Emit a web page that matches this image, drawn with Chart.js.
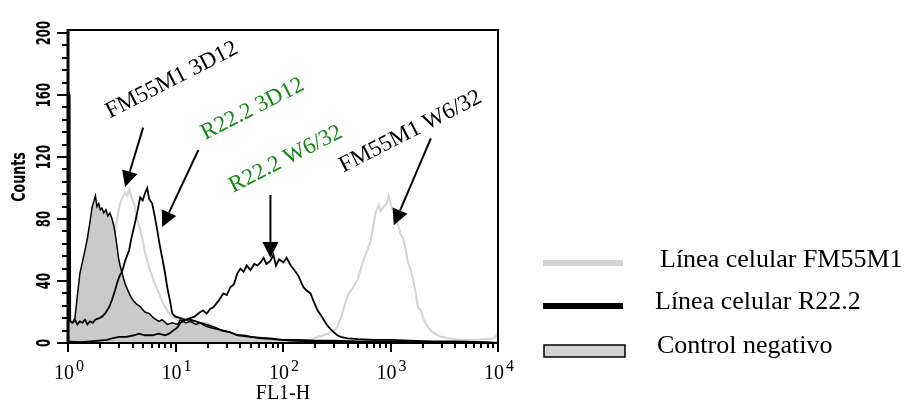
<!DOCTYPE html>
<html>
<head>
<meta charset="utf-8">
<script src="https://cdn.jsdelivr.net/npm/chart.js@4"></script>
<style>
  html, body { margin: 0; padding: 0; background: #fff; }
  canvas { display: block; }
</style>
</head>
<body>
<canvas id="histo" width="914" height="401"></canvas>
<script>
// ------------------------
// DATA (FL1-H channel value, counts)
// ------------------------
const ctrlX = [1, 1.005, 1.04, 1.05, 1.1, 1.16, 1.22, 1.29, 1.36, 1.44, 1.52, 1.6, 1.68, 1.75, 1.8, 1.86, 1.93, 2.0, 2.07, 2.15, 2.25, 2.35, 2.45, 2.57, 2.66, 2.74, 2.86, 2.95, 3.05, 3.19, 3.4, 3.55, 3.71, 3.9, 4.1, 4.35, 4.6, 4.9, 5.2, 5.7, 6.3, 7.0, 7.5, 8.4, 9.3, 10.5, 11.1, 12.5, 13.7, 15.5, 17, 19, 21, 24, 28, 32, 38, 44, 50, 60, 76, 100, 118, 180, 300, 500, 1000, 10000];
const ctrlY = [0, 163, 160, 14, 13, 16, 30, 45, 52, 60, 68, 78, 88, 92, 95, 88, 90, 86, 87, 84, 86, 82, 84, 80, 76, 71, 62, 55, 50, 45, 38, 35, 32, 29, 27, 25, 24, 22, 20, 19, 16, 14, 15, 12, 13, 12, 15, 13, 14, 12, 13, 11, 10, 9, 8, 7, 5, 5, 4, 3, 2.5, 2, 1.5, 1, 1, 0.5, 0, 0];

const r3dX = [1, 1.005, 1.04, 1.05, 1.1, 1.16, 1.22, 1.29, 1.36, 1.44, 1.52, 1.6, 1.7, 1.79, 1.95, 2.07, 2.21, 2.41, 2.57, 2.74, 2.9, 3.05, 3.19, 3.4, 3.71, 3.9, 4.12, 4.4, 4.69, 4.95, 5.22, 5.45, 5.69, 6.07, 6.4, 6.76, 7.1, 7.52, 8.0, 8.38, 8.9, 9.33, 10, 11.1, 12.5, 13.7, 15.5, 17, 19, 21, 23.5, 27, 32, 38, 44, 50, 60, 76, 100, 140, 200, 300, 500, 1000, 2000, 5000, 10000];
const r3dY = [0, 88, 86, 14, 13, 15, 12, 14, 13, 15, 12, 14, 13, 15, 16, 17, 19, 23, 28, 34, 40, 44, 46, 53, 60, 68, 75, 84, 94, 92, 97, 100, 93, 90, 82, 73, 64, 55, 45, 36, 27, 19, 17, 16, 15, 15, 14, 13, 12, 11, 10, 8, 7, 5, 4.5, 4, 3.5, 3, 2, 2, 1.5, 1.5, 1, 1, 0.5, 0.5, 0];

const rw6X = [1, 1.3, 1.6, 1.95, 2.3, 2.57, 3.0, 3.5, 4.1, 4.59, 5.2, 6.07, 7.0, 8.0, 8.74, 9.5, 10.4, 11.1, 12.5, 13.7, 15, 17, 18.1, 19.5, 21, 22.5, 25, 27.9, 30, 32.4, 35, 37.6, 40.2, 43, 46, 49.8, 54, 58, 61.7, 66, 70, 76.4, 81.5, 86, 92, 101, 108, 118, 128, 140, 148, 155, 165, 180, 195, 210, 225, 239, 260, 277, 296, 320, 344, 400, 500, 700, 1000, 1500, 2500, 4000, 7000, 10000];
const rw6Y = [1, 0.5, 1, 1.5, 2, 3, 4, 4, 5, 6, 5, 5, 6, 5, 6, 8, 10, 13, 15, 16, 17, 20, 21, 19, 22, 23, 27, 32, 31, 36, 38, 45, 48, 46, 50, 47, 51, 50, 52, 55, 51, 53, 57, 50, 54, 52, 55, 50, 47, 43, 39, 36, 34, 32, 26, 21, 18, 15, 11, 9, 7, 5, 4, 3, 2.5, 2, 2, 1.5, 1, 1, 0.5, 0];

const f3dX = [1, 1.3, 1.6, 1.95, 2.2, 2.4, 2.57, 2.74, 2.86, 3.05, 3.2, 3.4, 3.55, 3.71, 3.9, 4.12, 4.4, 4.69, 5.0, 5.22, 5.6, 6.07, 6.5, 7.05, 7.5, 8.02, 8.7, 9.33, 10.4, 11.5, 13, 15, 17, 19, 21, 23, 25, 28, 32, 40, 60, 10000];
const f3dY = [2, 3, 4, 8, 15, 28, 45, 71, 80, 90, 94, 97, 95, 99, 94, 90, 80, 73, 65, 58, 50, 43, 37, 32, 27, 23, 19, 17, 15, 14, 15, 14, 13, 13, 12, 8, 4, 2, 1, 0.5, 0, 0];

const fw6X = [1, 100, 140, 180, 210, 240, 277, 296, 320, 344, 370, 399, 440, 495, 530, 563, 610, 655, 690, 728, 777, 810, 865, 920, 963, 1000, 1050, 1100, 1170, 1247, 1301, 1387, 1450, 1545, 1630, 1720, 1795, 1915, 2043, 2200, 2373, 2600, 2941, 3500, 4520, 6000, 7500, 9180, 9700, 10000];
const fw6Y = [0, 0, 1, 2, 4, 5, 7, 8, 10, 16, 23, 31, 35, 41, 48, 54, 60, 66, 75, 84, 89, 85, 88, 90, 95, 90, 86, 80, 77, 70, 68, 60, 52, 47, 40, 32, 23, 21, 15, 11, 8, 6, 4, 3, 2, 2, 2.5, 3, 5, 6];

// axis ticks
const xDecades = [1, 10, 100, 1000, 10000];
const xExponents = ["0", "1", "2", "3", "4"];
const yLabels = [0, 40, 80, 120, 160, 200];
const xTitle = "FL1-H";
const yTitle = "Counts";

// annotations (text start and arrows, in data units)
const noteText = ["FM55M1 3D12", "R22.2 3D12", "R22.2 W6/32", "FM55M1 W6/32"];
const noteColor = ["#000000", "#118a11", "#118a11", "#000000"];
const noteX = [2.46, 18.9, 34.5, 366];
const noteY = [145, 131, 97, 110];
const arrowFromX = [5.0, 16.3, 76.4, 2373];
const arrowFromY = [139, 124.5, 95.5, 132];
const arrowToX = [3.4, 7.52, 76.4, 1072];
const arrowToY = [100.6, 74.8, 54.8, 76];

// legend
const legendLabels = ["Línea celular FM55M1", "Línea celular R22.2", "Control negativo"];

const SERIF = '"Liberation Serif", "Times New Roman", serif';
const NARROW = '"Liberation Sans Narrow", "DejaVu Sans Condensed", sans-serif';
const GREY_LINE = "#d4d4d4";
const CTRL_FILL = "#cacaca";

function toPoints(xs, ys) {
  return xs.map((x, i) => ({ x, y: ys[i] }));
}

// ------------------------
// EXTRA DRAWING (frame, ticks, labels, arrows, legend)
// ------------------------
const extras = {
  id: "extras",
  afterDraw(chart) {
    const { ctx, chartArea: a, scales } = chart;
    const xs = scales.x, ys = scales.y;

    ctx.save();
    ctx.strokeStyle = "#000";
    ctx.fillStyle = "#000";

    // frame
    ctx.lineWidth = 2;
    ctx.strokeRect(a.left, a.top, a.right - a.left, a.bottom - a.top);
    ctx.lineWidth = 3;
    ctx.beginPath();
    ctx.moveTo(a.left, a.top - 1);
    ctx.lineTo(a.left, a.bottom + 1);
    ctx.stroke();

    // y ticks (minor every 8)
    ctx.lineWidth = 2;
    for (let v = 0; v <= 200; v += 8) {
      const py = Math.round(ys.getPixelForValue(v));
      const len = v % 40 === 0 ? 10 : 5;
      ctx.beginPath();
      ctx.moveTo(a.left - 1, py);
      ctx.lineTo(a.left - 1 - len, py);
      ctx.stroke();
    }

    // x ticks (log)
    xDecades.forEach((d, i) => {
      const px = Math.round(xs.getPixelForValue(d));
      ctx.beginPath();
      ctx.moveTo(px, a.bottom);
      ctx.lineTo(px, a.bottom + 9);
      ctx.stroke();
      if (i < xDecades.length - 1) {
        for (let k = 2; k <= 9; k++) {
          const mx = Math.round(xs.getPixelForValue(k * d));
          ctx.beginPath();
          ctx.moveTo(mx, a.bottom);
          ctx.lineTo(mx, a.bottom + 5);
          ctx.stroke();
        }
      }
    });

    // x tick labels 10^n
    xDecades.forEach((d, i) => {
      const px = xs.getPixelForValue(d);
      ctx.font = "20px " + SERIF;
      const wBase = ctx.measureText("10").width;
      ctx.font = "16px " + SERIF;
      const wExp = ctx.measureText(xExponents[i]).width;
      const start = px - (wBase + wExp + 2) / 2 + 1;
      ctx.textAlign = "left";
      ctx.textBaseline = "alphabetic";
      ctx.font = "20px " + SERIF;
      ctx.fillText("10", start, 379);
      ctx.font = "16px " + SERIF;
      ctx.fillText(xExponents[i], start + wBase + 2, 371);
    });

    // x title
    ctx.font = "20px " + SERIF;
    ctx.textAlign = "center";
    ctx.fillText(xTitle, (xs.getPixelForValue(1) + xs.getPixelForValue(10000)) / 2, 399);

    // y tick labels, rotated and stretched
    yLabels.forEach(v => {
      ctx.save();
      ctx.translate(45, ys.getPixelForValue(v));
      ctx.rotate(-Math.PI / 2);
      ctx.scale(1, 1.55);
      ctx.font = "bold 13px " + NARROW;
      ctx.textAlign = "center";
      ctx.textBaseline = "middle";
      ctx.fillText(String(v), 0, 0);
      ctx.restore();
    });

    // y title
    ctx.save();
    ctx.translate(20, 177);
    ctx.rotate(-Math.PI / 2);
    ctx.scale(1, 1.4);
    ctx.font = "bold 14px " + NARROW;
    ctx.textAlign = "center";
    ctx.textBaseline = "middle";
    ctx.fillText(yTitle, 0, 0);
    ctx.restore();

    // arrows
    ctx.lineWidth = 2;
    arrowFromX.forEach((fx, i) => {
      const x0 = xs.getPixelForValue(fx), y0 = ys.getPixelForValue(arrowFromY[i]);
      const x1 = xs.getPixelForValue(arrowToX[i]), y1 = ys.getPixelForValue(arrowToY[i]);
      const ang = Math.atan2(y1 - y0, x1 - x0);
      const hl = 16, hw = 8;
      const bx = x1 - hl * Math.cos(ang), by = y1 - hl * Math.sin(ang);
      ctx.beginPath();
      ctx.moveTo(x0, y0);
      ctx.lineTo(bx, by);
      ctx.stroke();
      ctx.beginPath();
      ctx.moveTo(x1, y1);
      ctx.lineTo(bx + hw * Math.sin(ang), by - hw * Math.cos(ang));
      ctx.lineTo(bx - hw * Math.sin(ang), by + hw * Math.cos(ang));
      ctx.closePath();
      ctx.fill();
    });

    // annotation texts
    noteText.forEach((t, i) => {
      ctx.save();
      ctx.translate(xs.getPixelForValue(noteX[i]), ys.getPixelForValue(noteY[i]));
      ctx.rotate(-27 * Math.PI / 180);
      ctx.font = "23px " + SERIF;
      ctx.fillStyle = noteColor[i];
      ctx.textAlign = "left";
      ctx.textBaseline = "alphabetic";
      ctx.fillText(t, 0, 0);
      ctx.restore();
    });

    // legend
    ctx.fillStyle = GREY_LINE;
    ctx.fillRect(543, 260, 80, 6);
    ctx.fillStyle = "#000";
    ctx.fillRect(543, 303, 80, 6);
    ctx.fillStyle = "#d2d2d2";
    ctx.fillRect(544, 345, 81, 12);
    ctx.lineWidth = 1.5;
    ctx.strokeRect(544, 345, 81, 12);

    ctx.fillStyle = "#000";
    ctx.font = "26px " + SERIF;
    ctx.textAlign = "left";
    ctx.textBaseline = "alphabetic";
    ctx.fillText(legendLabels[0], 660, 267);
    ctx.fillText(legendLabels[1], 655, 309);
    ctx.fillText(legendLabels[2], 657, 353);

    ctx.restore();
  }
};

// ------------------------
// CHART
// ------------------------
const canvas = document.getElementById("histo");

new Chart(canvas, {
  type: "line",
  data: {
    datasets: [
      { label: "FM55M1 3D12", data: toPoints(f3dX, f3dY), borderColor: GREY_LINE, borderWidth: 2, fill: false, order: 5 },
      { label: "FM55M1 W6/32", data: toPoints(fw6X, fw6Y), borderColor: GREY_LINE, borderWidth: 2, fill: false, order: 4 },
      { label: "Control negativo", data: toPoints(ctrlX, ctrlY), borderColor: "#000", backgroundColor: CTRL_FILL, borderWidth: 1.5, fill: "origin", order: 3 },
      { label: "R22.2 W6/32", data: toPoints(rw6X, rw6Y), borderColor: "#000", borderWidth: 1.8, fill: false, order: 2 },
      { label: "R22.2 3D12", data: toPoints(r3dX, r3dY), borderColor: "#000", borderWidth: 1.8, fill: false, order: 1 }
    ]
  },
  options: {
    responsive: false,
    animation: false,
    devicePixelRatio: 1,
    layout: { padding: { left: 68, right: 416, top: 30, bottom: 58 } },
    elements: { point: { radius: 0 }, line: { tension: 0 } },
    plugins: { legend: { display: false }, tooltip: { enabled: false } },
    scales: {
      x: { type: "logarithmic", min: 1, max: 10000, display: false },
      y: { type: "linear", min: 0, max: 202, display: false }
    }
  },
  plugins: [extras]
});
</script>
</body>
</html>
